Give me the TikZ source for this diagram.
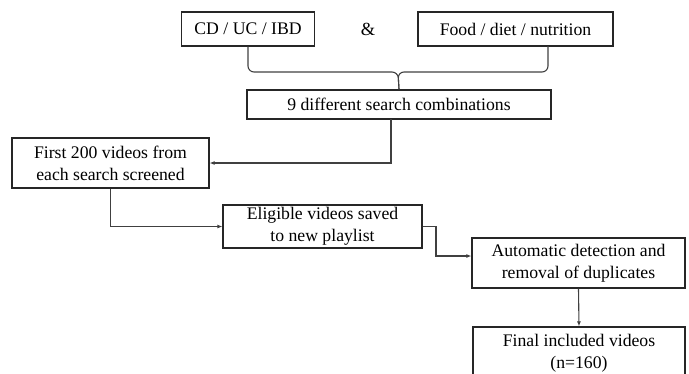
\documentclass[tikz,border=0pt]{standalone}
\usepackage{fontspec}
\setmainfont{Liberation Serif}
\usetikzlibrary{arrows.meta}
\begin{document}
\begin{tikzpicture}[x=1pt,y=-1pt,
  box/.style={draw=black!85, line width=1.2pt, inner sep=0pt, align=center,
    font=\fontsize{17.7}{22}\selectfont, text=black},
  conn/.style={draw=black!75, line width=1.1pt},
  arr/.style={conn, -{Latex[length=5pt,width=4pt]}}]
\useasboundingbox (0,0) rectangle (689,373);
\clip (0,0) rectangle (689,373);
\node[box, minimum width=133pt, minimum height=34pt] (cd) at (248,29) {CD / UC / IBD};
\node[box, minimum width=195pt, minimum height=34pt] (food) at (515.5,29) {Food / diet / nutrition};
\node[font=\fontsize{18.5}{22}\selectfont, text=black] (amp) at (368,29) {\&};
\node[box, minimum width=304pt, minimum height=29pt] (comb) at (399,104.5) {9 different search combinations};
\node[box, minimum width=197pt, minimum height=50pt] (first) at (110.5,163) {First 200 videos from\\each search screened};
\node[box, minimum width=199pt, minimum height=43pt] (elig) at (322.5,226.5) {Eligible videos saved\\to new playlist};
\node[box, minimum width=213pt, minimum height=50pt] (auto) at (578.5,263) {Automatic detection and\\removal of duplicates};
\node[box, minimum width=212pt, minimum height=52pt] (final) at (579,353) {Final included videos\\(n=160)};
% brace
\draw[conn, rounded corners=6pt] (cd.south) -- (cd.south |- 0,72) -- (398,72) -- (comb.north);
\draw[conn, rounded corners=6pt] (548,46) -- (548,72) -- (398,72) -- (comb.north);
% connectors
\coordinate (c1) at (391,119);
\draw[arr] (c1) |- (first.east);
\draw[arr] (first.south) |- (elig.west);
\coordinate (c2) at (436,256);
\draw[arr] (elig.east) -| (c2) -- (c2 -| auto.west);
\draw[arr] (auto.south) -- (final.north);
\end{tikzpicture}
\end{document}
